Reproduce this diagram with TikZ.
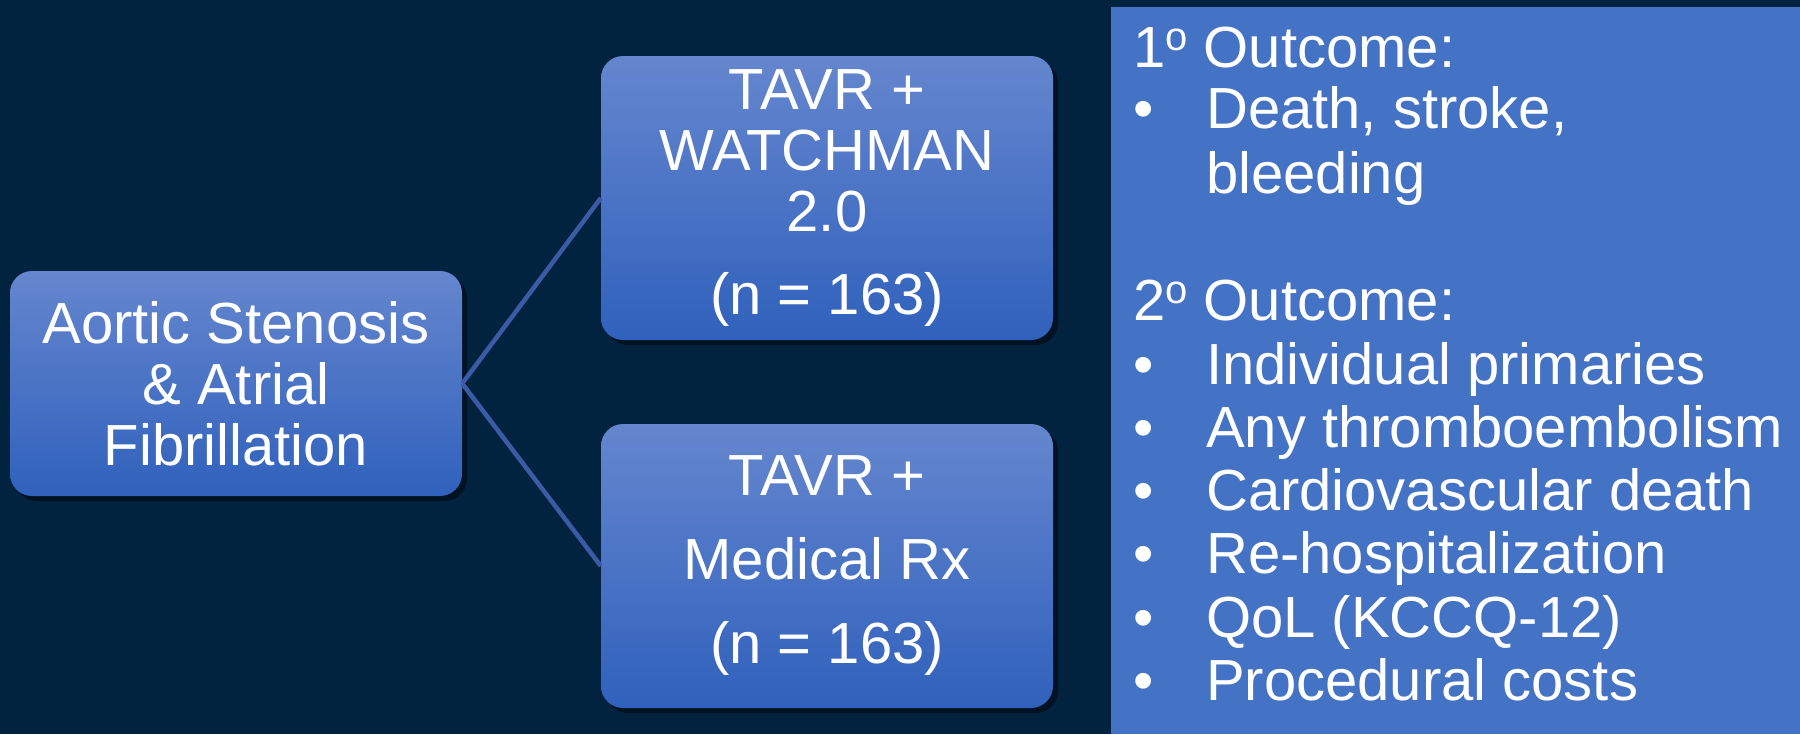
\documentclass[tikz,border=0pt]{standalone}
\usepackage{fontspec}
\setmainfont{Liberation Sans}
\usetikzlibrary{shadows}
\definecolor{bg}{HTML}{02233F}
\definecolor{boxtop}{HTML}{6586CE}
\definecolor{boxbot}{HTML}{3061BC}
\definecolor{panelblue}{HTML}{4472C4}
\definecolor{connblue}{HTML}{3A5CA4}
\newcommand\ordo{\raisebox{17pt}{\fontsize{40}{40}\selectfont o}}
\tikzset{
  armbox/.style={rounded corners=22pt, top color=boxtop, bottom color=boxbot,
    minimum width=452pt, inner sep=0pt, align=center, text=white,
    drop shadow={shadow xshift=5pt, shadow yshift=-5pt, opacity=0.45, fill=black}},
  linkline/.style={draw=connblue, line width=4.5pt},
  paneltext/.style={anchor=base west, inner sep=0pt, text=white,
    font=\fontsize{58}{63}\selectfont},
}
\begin{document}
\begin{tikzpicture}[x=1pt,y=-1pt]
\fill[bg] (0,0) rectangle (1800,734);
\useasboundingbox (0,0) rectangle (1800,734);
% panel
\node[fill=panelblue, minimum width=689pt, minimum height=727pt, inner sep=0pt, anchor=north west] (panel) at (1111,7) {};
% boxes
\node[armbox, minimum height=225pt, font=\fontsize{58}{61}\selectfont] (as) at (236,383.5) {Aortic Stenosis\\ \& Atrial\\ Fibrillation};
\node[armbox, minimum height=284pt, font=\fontsize{58}{61}\selectfont] (tw) at (827,198) {TAVR +\\ WATCHMAN\\ 2.0\\[22pt] (n = 163)};
\node[armbox, minimum height=284pt, font=\fontsize{58}{84}\selectfont] (tm) at (827,566) {TAVR +\\ Medical Rx\\ (n = 163)};
% connectors
\draw[linkline] (as.east) -- (tw.west);
\draw[linkline] (as.east) -- (tm.west);
% panel text
\node[paneltext] (h1) at (1133,67) {1\ordo{} Outcome:};
\node[paneltext] (p1) at (1133,128) {\makebox[73pt][l]{•}Death, stroke,};
\node[paneltext] (p1b) at (1206,193) {bleeding};
\node[paneltext] (h2) at (1133,320) {2\ordo{} Outcome:};
\node[paneltext] (s1) at (1133,384) {\makebox[73pt][l]{•}Individual primaries};
\node[paneltext] (s2) at (1133,447) {\makebox[73pt][l]{•}Any thromboembolism};
\node[paneltext] (s3) at (1133,510) {\makebox[73pt][l]{•}Cardiovascular death};
\node[paneltext] (s4) at (1133,573) {\makebox[73pt][l]{•}Re-hospitalization};
\node[paneltext] (s5) at (1133,637) {\makebox[73pt][l]{•}QoL (KCCQ-12)};
\node[paneltext] (s6) at (1133,700) {\makebox[73pt][l]{•}Procedural costs};
\end{tikzpicture}
\end{document}
